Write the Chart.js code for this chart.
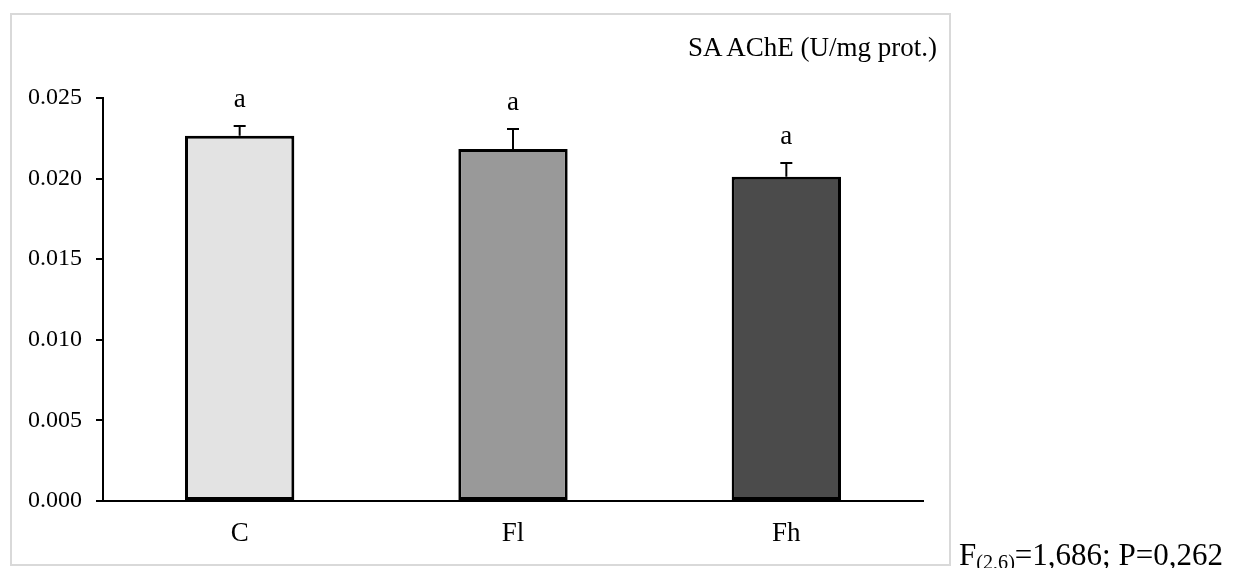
<!DOCTYPE html>
<html>
<head>
<meta charset="utf-8">
<script src="https://cdn.jsdelivr.net/npm/chart.js@4/dist/chart.umd.min.js"></script>
<style>
  html, body { margin: 0; padding: 0; background: #fff; overflow: hidden; }
  #wrap { position: relative; width: 1236px; height: 568px; }
  #frame {
    position: absolute; left: 10px; top: 13px; width: 937px; height: 549px;
    border: 2px solid #d9d9d9;
  }
  #chart { position: absolute; left: 0; top: 0; }
  .txt { position: absolute; font-family: 'Liberation Serif', 'Times New Roman', serif; color: #000; white-space: nowrap; line-height: 1; }
  #titulo { right: 299px; top: 34px; font-size: 27px; }
  #estad { left: 959px; top: 539px; font-size: 31px; }
  #estad sub { font-size: 65%; vertical-align: -4px; line-height: 0; }
</style>
</head>
<body>
<div id="wrap">
  <div id="frame"></div>
  <canvas id="chart" width="1236" height="568"></canvas>
  <div class="txt" id="titulo">SA AChE (U/mg prot.)</div>
  <div class="txt" id="estad">F<sub>(2,6)</sub>=1,686; P=0,262</div>
</div>
<script>
// datos
const grupos   = ['C', 'Fl', 'Fh'];
const medias   = [0.02266, 0.02184, 0.02012];
const errores  = [0.00060, 0.00124, 0.00085];
const letras   = ['a', 'a', 'a'];
const colores  = ['#e3e3e3', '#999999', '#4b4b4b'];
const yTicks   = [0, 0.005, 0.010, 0.015, 0.020, 0.025];

Chart.defaults.font.family = "'Liberation Serif', 'Times New Roman', serif";
Chart.defaults.color = '#000';

// barras de error (solo hacia arriba) y letras
const errorBars = {
  id: 'errorBars',
  afterDatasetsDraw(chart) {
    const ctx = chart.ctx;
    const y = chart.scales.y;
    const meta = chart.getDatasetMeta(0);
    ctx.save();
    ctx.strokeStyle = '#000';
    ctx.lineWidth = 2;
    meta.data.forEach((bar, i) => {
      const yTop = y.getPixelForValue(medias[i] + errores[i]);
      const yBase = y.getPixelForValue(medias[i]);
      ctx.beginPath();
      ctx.moveTo(bar.x, yBase);
      ctx.lineTo(bar.x, yTop);
      ctx.moveTo(bar.x - 6, yTop);
      ctx.lineTo(bar.x + 6, yTop);
      ctx.stroke();
      ctx.fillStyle = '#000';
      ctx.font = "27px 'Liberation Serif', serif";
      ctx.textAlign = 'center';
      ctx.textBaseline = 'alphabetic';
      ctx.fillText(letras[i], bar.x, yTop - 19);
    });
    ctx.restore();
  }
};

new Chart(document.getElementById('chart'), {
  type: 'bar',
  data: {
    labels: grupos,
    datasets: [{
      data: medias,
      backgroundColor: colores,
      borderColor: '#000',
      borderWidth: 3,
      borderSkipped: false,
      barPercentage: 0.4,
      categoryPercentage: 1
    }]
  },
  options: {
    responsive: false,
    animation: false,
    layout: { padding: { top: 98, right: 313, bottom: 0, left: 0 } },
    plugins: { legend: { display: false }, tooltip: { enabled: false } },
    scales: {
      x: {
        grid: { display: true, drawOnChartArea: false, drawTicks: false },
        border: { display: true, color: '#000', width: 2 },
        ticks: { font: { size: 27 }, color: '#000', padding: 17 },
        afterFit(s) { s.height = 67; }
      },
      y: {
        min: 0,
        max: 0.025,
        afterBuildTicks(s) { s.ticks = yTicks.map(v => ({ value: v })); },
        grid: { display: true, drawOnChartArea: false, drawTicks: true, tickLength: 7, color: '#000', lineWidth: 2 },
        border: { display: true, color: '#000', width: 2 },
        ticks: { font: { size: 24 }, color: '#000', padding: 14, callback: v => Number(v).toFixed(3) },
        afterFit(s) { s.width = 103; }
      }
    }
  },
  plugins: [errorBars]
});
</script>
</body>
</html>
